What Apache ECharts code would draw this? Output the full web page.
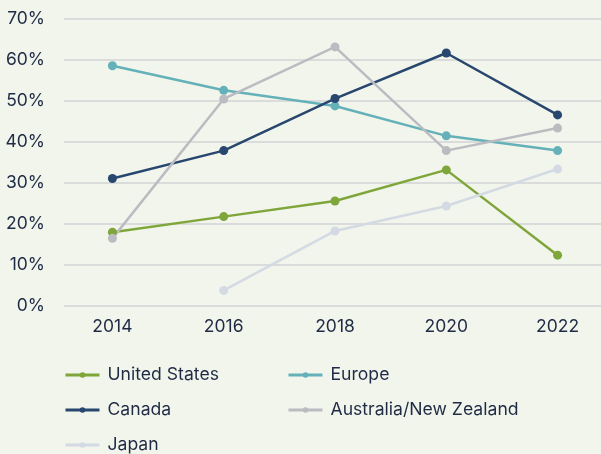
<!DOCTYPE html>
<html>
<head>
<meta charset="utf-8">
<script src="https://cdn.jsdelivr.net/npm/echarts@6/dist/echarts.min.js"></script>
<style>
  html, body { margin: 0; padding: 0; background: #f2f5eb; }
  #chart { width: 601px; height: 454px; }
</style>
</head>
<body>
<div id="chart"></div>
<script>
var years = [2014, 2016, 2018, 2020, 2022];
var seriesNames = ["United States", "Europe", "Canada", "Australia/New Zealand", "Japan"];
var unitedStates = [18.0, 21.8, 25.6, 33.2, 12.4];
var europe = [58.6, 52.6, 48.8, 41.5, 37.9];
var canada = [31.1, 37.9, 50.6, 61.7, 46.6];
var ausNz = [16.5, 50.5, 63.2, 37.9, 43.4];
var japan = [null, 3.8, 18.3, 24.4, 33.4];
var colors = ["#7fa63a", "#64b1b9", "#28476f", "#bbbbc2", "#d3dae3"];

var txt = "#1f2b45";
var font = "Inter";

function pairs(vals) {
    var out = [];
    for (var i = 0; i < years.length; i++) {
        if (vals[i] != null) out.push([years[i], vals[i]]);
    }
    return out;
}

var allVals = [unitedStates, europe, canada, ausNz, japan];
var series = [];
for (var k = 0; k < seriesNames.length; k++) {
    series.push({
        name: seriesNames[k],
        type: "line",
        data: pairs(allVals[k]),
        symbol: "circle",
        symbolSize: 9,
        lineStyle: { width: 2.5, color: colors[k] },
        itemStyle: { color: colors[k] },
        emphasis: { disabled: true }
    });
}

// one legend per entry, laid out in two columns like the original
var legendSpots = [[64, 365], [287, 365], [64, 400], [287, 400], [64, 435]];
var legends = [];
for (var j = 0; j < seriesNames.length; j++) {
    legends.push({
        data: [seriesNames[j]],
        left: legendSpots[j][0],
        top: legendSpots[j][1],
        padding: 0,
        itemWidth: 34,
        itemHeight: 7,
        lineStyle: { width: 3 },
        textStyle: { color: txt, fontSize: 17.6, fontFamily: font, lineHeight: 20, padding: [0, 0, 0, 3] }
    });
}

var chart = echarts.init(document.getElementById("chart"));
chart.setOption({
    backgroundColor: "#f2f5eb",
    animation: false,
    color: colors,
    grid: { left: 64, right: 0, top: 19, bottom: 148 },
    legend: legends,
    xAxis: {
        type: "value",
        min: 2013.13,
        max: 2022.78,
        axisLine: { show: false },
        axisTick: { show: false },
        splitLine: { show: false },
        axisLabel: {
            customValues: years,
            formatter: function(v) { return String(v); },
            color: txt,
            fontSize: 17.5,
            fontFamily: font,
            margin: 12
        }
    },
    yAxis: {
        type: "value",
        min: 0,
        max: 70,
        interval: 10,
        axisLine: { show: false },
        axisTick: { show: false },
        splitLine: { lineStyle: { color: "#d2d3d6", width: 1.5 } },
        axisLabel: {
            formatter: "{value}%",
            color: txt,
            fontSize: 17.5,
            fontFamily: font,
            margin: 19
        }
    },
    series: series
});
</script>
</body>
</html>
